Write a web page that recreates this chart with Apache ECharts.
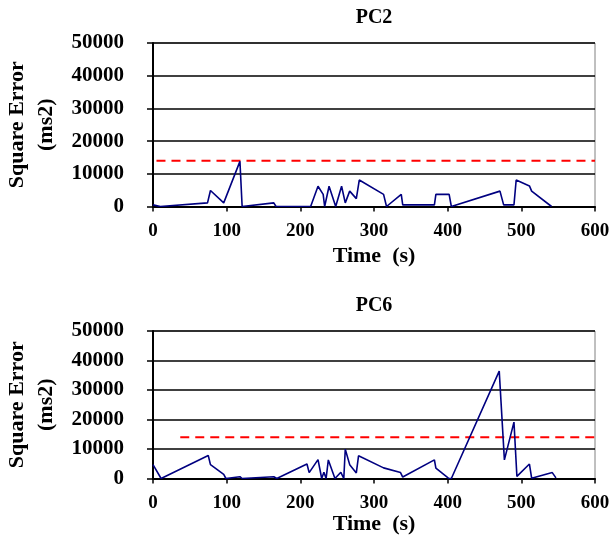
<!DOCTYPE html>
<html><head><meta charset="utf-8">
<script src="https://cdn.jsdelivr.net/npm/echarts@6/dist/echarts.min.js"></script>
<style>html,body{margin:0;padding:0;background:#fff}#c{width:614px;height:539px}</style>
</head><body><div id="c"></div>
<script>
// ---- data ----
const chartTitles = ['PC2', 'PC6'];
const xTickLabels = ['0', '100', '200', '300', '400', '500', '600'];
const yTickLabels = ['0', '10000', '20000', '30000', '40000', '50000'];

const pc2Time = [0, 10, 74, 78, 96, 118, 121, 164, 167, 214, 224, 231, 233, 239, 248, 256, 261, 267, 276, 280, 313, 317, 337, 339, 382, 384, 402, 405, 471, 476, 490, 493, 511, 514, 541];
const pc2Vals = [500, 0, 1100, 4900, 1100, 13800, 0, 1100, 0, 0, 6200, 3700, 0, 6200, 0, 6200, 1100, 4700, 2400, 8100, 3700, 0, 3700, 500, 500, 3700, 3700, 0, 4700, 500, 500, 8100, 6300, 4700, 0];

const pc6Time = [0, 11, 75, 78, 96, 99, 118, 121, 164, 168, 209, 212, 224, 229, 232, 235, 238, 247, 255, 259, 261, 267, 276, 279, 313, 336, 339, 382, 384, 401, 405, 470, 477, 490, 494, 511, 514, 542, 547];
const pc6Vals = [4700, 0, 7800, 4700, 1400, 0, 600, 0, 600, 0, 4900, 2000, 6400, 0, 2100, 0, 6300, 0, 2100, 0, 9900, 4700, 1900, 7700, 3600, 2000, 500, 6300, 3500, 100, 0, 36400, 6300, 19100, 700, 4900, 100, 2000, 200];

const thresholdValue = 14000;
const pc2ThresholdX = [-36, 600];
const pc6ThresholdX = [37, 600];

// ---- build ----
const FONT = "'Liberation Serif', 'Times New Roman', serif";
const pairs = (xs, ys) => xs.map((x, i) => [x, ys[i]]);

const grids = [
  { left: 153, right: 19, top: 43, height: 163.5 },
  { left: 153, right: 19, top: 331, height: 147.5 }
];

function xAx(i, gap) {
  return {
    type: 'value', gridIndex: i, min: 0, max: 600, interval: 100,
    name: 'Time  (s)', nameLocation: 'middle', nameGap: gap,
    nameTextStyle: { fontFamily: FONT, fontWeight: 'bold', fontSize: 22, color: '#000' },
    axisLine: { onZero: false, lineStyle: { color: '#000', width: 2 } },
    axisTick: { show: true, length: 5, lineStyle: { color: '#000', width: 1.5 } },
    axisLabel: { fontFamily: FONT, fontWeight: 'bold', fontSize: 19, color: '#000', margin: 15,
      formatter: v => xTickLabels[Math.round(v / 100)] },
    splitLine: { show: false }
  };
}
function yAx(i) {
  return {
    type: 'value', gridIndex: i, min: 0, max: 50000, interval: 10000,
    name: 'Square Error\n(ms2)', nameLocation: 'middle', nameRotate: 90, nameGap: 92,
    nameTextStyle: { fontFamily: FONT, fontWeight: 'bold', fontSize: 22, color: '#000', lineHeight: 29 },
    axisLine: { show: true, lineStyle: { color: '#000', width: 2 } },
    axisTick: { show: true, length: 6, lineStyle: { color: '#000', width: 1.5 } },
    axisLabel: { fontFamily: FONT, fontWeight: 'bold', fontSize: 21, color: '#000', margin: 29,
      formatter: v => yTickLabels[Math.round(v / 10000)] },
    splitLine: { show: true, lineStyle: { color: '#000', width: 1.5 } }
  };
}
function dataSeries(i, xs, ys) {
  return { type: 'line', xAxisIndex: i, yAxisIndex: i, data: pairs(xs, ys),
    showSymbol: false, symbol: 'none', animation: false,
    lineStyle: { color: '#000080', width: 1.6 }, z: 5 };
}
function thrSeries(i, xs) {
  return { type: 'line', xAxisIndex: i, yAxisIndex: i, clip: false,
    data: xs.map(x => [x, thresholdValue]), showSymbol: false, symbol: 'none', animation: false,
    lineStyle: { color: '#ff0000', width: 2, type: [9, 6] }, z: 4 };
}

const chart = echarts.init(document.getElementById('c'), null, { renderer: 'canvas' });
chart.setOption({
  backgroundColor: '#fff',
  animation: false,
  grid: grids.map(g => Object.assign({ show: true, borderColor: '#808080', borderWidth: 1, backgroundColor: 'transparent', containLabel: false, outerBoundsMode: 'none' }, g)),
  xAxis: [xAx(0, 39), xAx(1, 34)],
  yAxis: [yAx(0), yAx(1)],
  graphic: [
    { type: 'text', x: 374, y: 18, style: { text: chartTitles[0], font: "bold 20px " + FONT, fill: '#000', textAlign: 'center', textVerticalAlign: 'middle' } },
    { type: 'text', x: 374, y: 306, style: { text: chartTitles[1], font: "bold 20px " + FONT, fill: '#000', textAlign: 'center', textVerticalAlign: 'middle' } }
  ],
  series: [
    dataSeries(0, pc2Time, pc2Vals),
    thrSeries(0, pc2ThresholdX),
    dataSeries(1, pc6Time, pc6Vals),
    thrSeries(1, pc6ThresholdX)
  ]
});
</script>
</body></html>
